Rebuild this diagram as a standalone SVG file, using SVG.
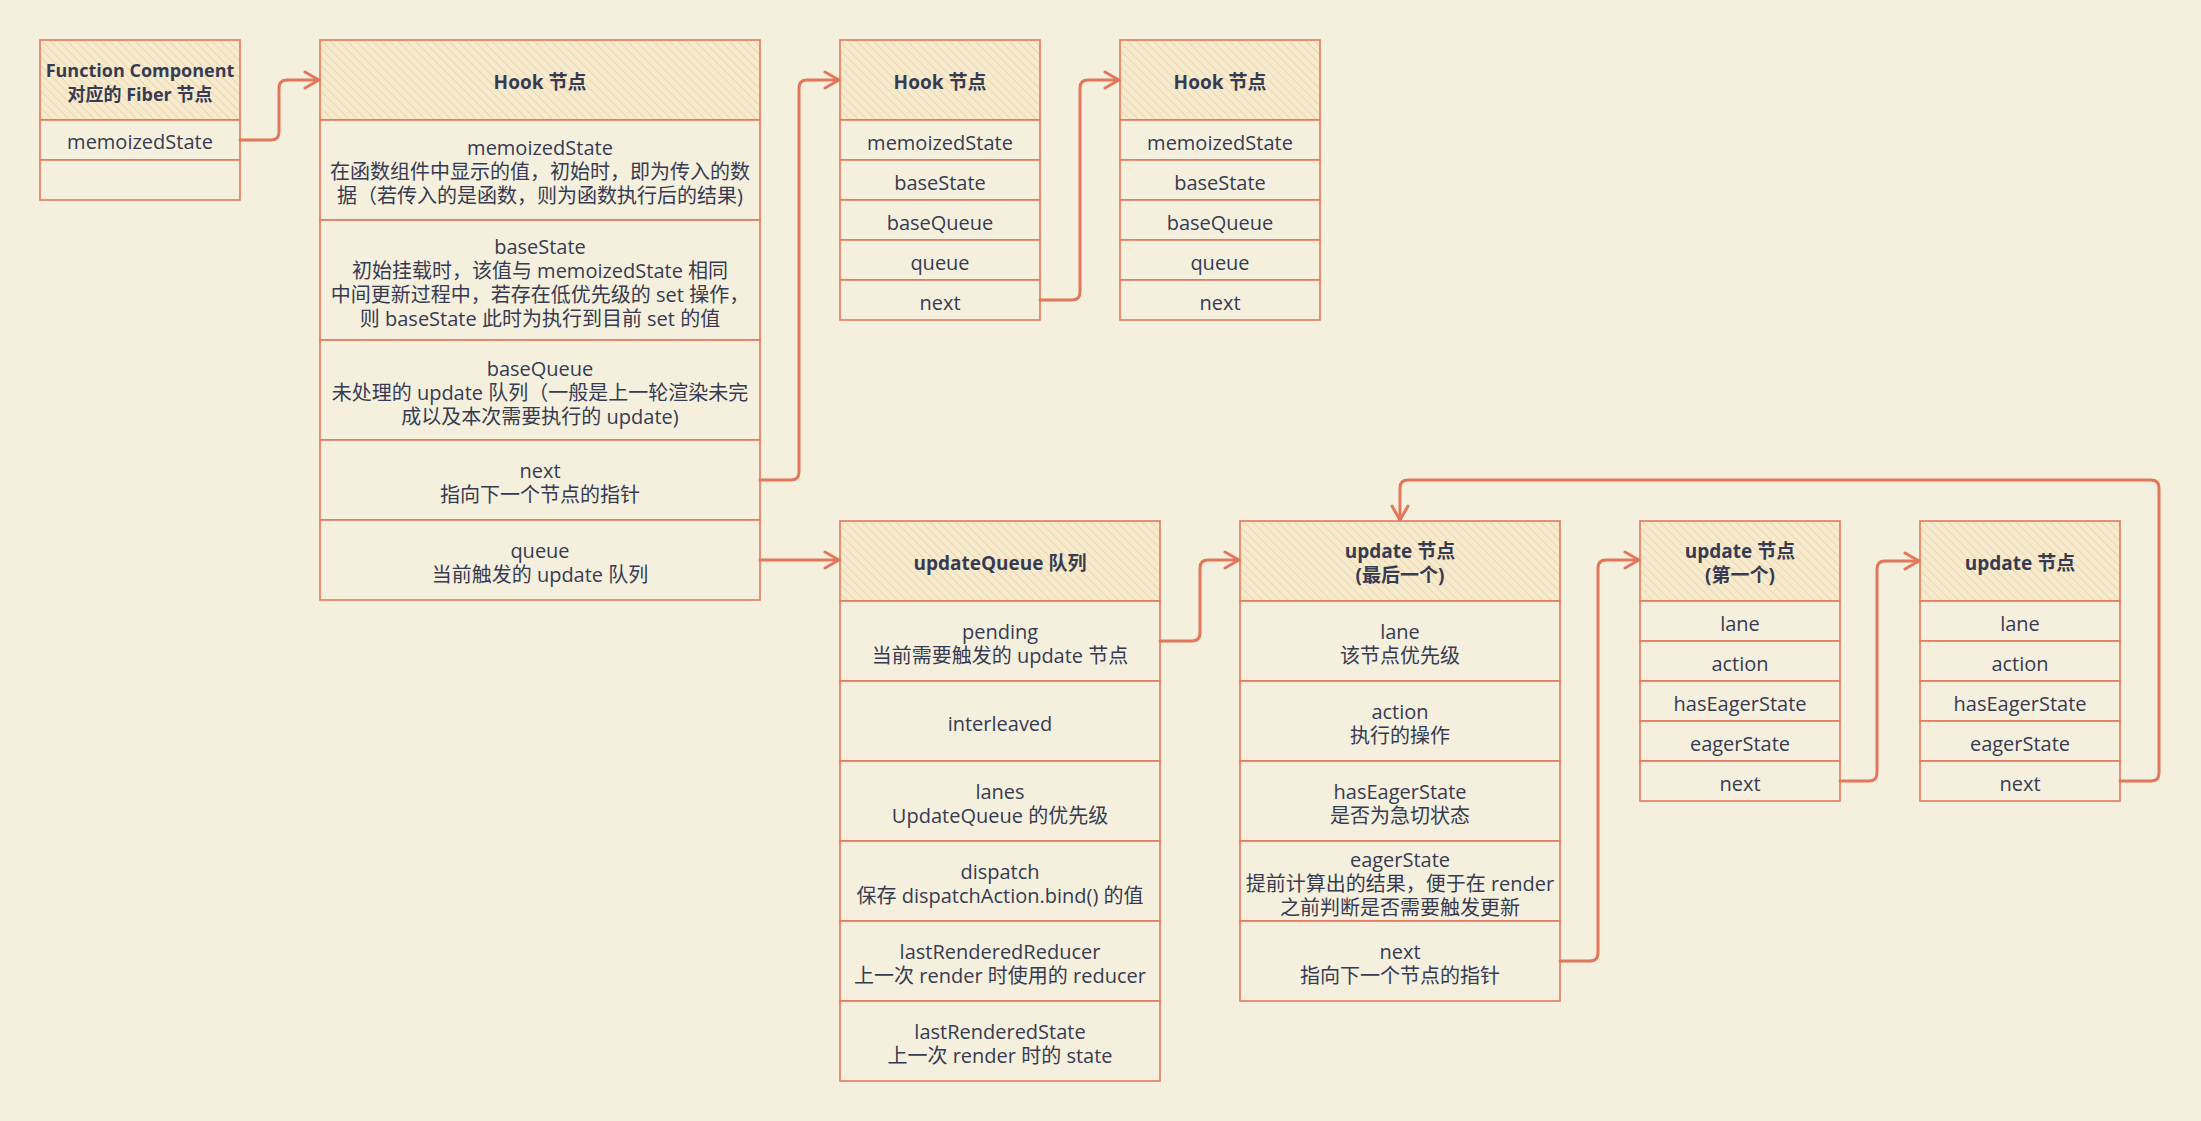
<svg xmlns="http://www.w3.org/2000/svg" width="2201" height="1121" viewBox="0 0 2201 1121">
<defs>
<pattern id="hatch" patternUnits="userSpaceOnUse" width="6" height="6" patternTransform="rotate(-45)">
<rect width="6" height="6" fill="#f6ebcf"/>
<line x1="0" y1="0" x2="0" y2="6" stroke="#efcf9f" stroke-width="1.6"/>
</pattern>
<marker id="arr" markerUnits="userSpaceOnUse" markerWidth="24" markerHeight="24" refX="16" refY="10" orient="auto" viewBox="0 0 24 20">
<path d="M2,2 L16,10 L2,18" fill="none" stroke="#e2775b" stroke-width="3" stroke-linecap="round" stroke-linejoin="round"/>
</marker>
<style>
.hd{fill:url(#hatch);stroke:#e4785c;stroke-width:1.6}
.cell{fill:#f5f0de;stroke:#e4785c;stroke-width:1.6}
text{font-family:"Open Sans","Noto Sans CJK SC",sans-serif;font-size:20px;fill:#363b52;text-anchor:middle;dominant-baseline:central}
.t{font-weight:bold;font-size:19px}
.f{font-weight:bold;font-size:18px}
.c{fill:none;stroke:#e2775b;stroke-width:3;stroke-linecap:round;stroke-linejoin:round}
</style>
</defs>
<rect width="2201" height="1121" fill="#f5f0de"/>

<g id="fiber">
<rect class="hd" x="40" y="40" width="200" height="80"/>
<text class="f" x="140" y="70">Function Component</text>
<text class="f" x="140" y="94">对应的 Fiber 节点</text>
<rect class="cell" x="40" y="120" width="200" height="40"/>
<text x="140" y="141">memoizedState</text>
<rect class="cell" x="40" y="160" width="200" height="40"/>
</g>

<g id="hook1">
<rect class="hd" x="320" y="40" width="440" height="80"/>
<text class="t" x="540" y="82">Hook 节点</text>
<rect class="cell" x="320" y="120" width="440" height="100"/>
<text x="540" y="147">memoizedState</text>
<text x="540" y="171">在函数组件中显示的值，初始时，即为传入的数</text>
<text x="540" y="195">据（若传入的是函数，则为函数执行后的结果)</text>
<rect class="cell" x="320" y="220" width="440" height="120"/>
<text x="540" y="246">baseState</text>
<text x="540" y="270">初始挂载时，该值与 memoizedState 相同</text>
<text x="540" y="294">中间更新过程中，若存在低优先级的 set 操作，</text>
<text x="540" y="318">则 baseState 此时为执行到目前 set 的值</text>
<rect class="cell" x="320" y="340" width="440" height="100"/>
<text x="540" y="368">baseQueue</text>
<text x="540" y="392">未处理的 update 队列（一般是上一轮渲染未完</text>
<text x="540" y="416">成以及本次需要执行的 update)</text>
<rect class="cell" x="320" y="440" width="440" height="80"/>
<text x="540" y="470">next</text>
<text x="540" y="494">指向下一个节点的指针</text>
<rect class="cell" x="320" y="520" width="440" height="80"/>
<text x="540" y="550">queue</text>
<text x="540" y="574">当前触发的 update 队列</text>
</g>

<g id="hook2">
<rect class="hd" x="840" y="40" width="200" height="80"/>
<text class="t" x="940" y="82">Hook 节点</text>
<rect class="cell" x="840" y="120" width="200" height="40"/>
<text x="940" y="142">memoizedState</text>
<rect class="cell" x="840" y="160" width="200" height="40"/>
<text x="940" y="182">baseState</text>
<rect class="cell" x="840" y="200" width="200" height="40"/>
<text x="940" y="222">baseQueue</text>
<rect class="cell" x="840" y="240" width="200" height="40"/>
<text x="940" y="262">queue</text>
<rect class="cell" x="840" y="280" width="200" height="40"/>
<text x="940" y="302">next</text>
</g>

<g id="hook3">
<rect class="hd" x="1120" y="40" width="200" height="80"/>
<text class="t" x="1220" y="82">Hook 节点</text>
<rect class="cell" x="1120" y="120" width="200" height="40"/>
<text x="1220" y="142">memoizedState</text>
<rect class="cell" x="1120" y="160" width="200" height="40"/>
<text x="1220" y="182">baseState</text>
<rect class="cell" x="1120" y="200" width="200" height="40"/>
<text x="1220" y="222">baseQueue</text>
<rect class="cell" x="1120" y="240" width="200" height="40"/>
<text x="1220" y="262">queue</text>
<rect class="cell" x="1120" y="280" width="200" height="40"/>
<text x="1220" y="302">next</text>
</g>

<g id="updateQueue">
<rect class="hd" x="840" y="521" width="320" height="80"/>
<text class="t" x="1000" y="563">updateQueue 队列</text>
<rect class="cell" x="840" y="601" width="320" height="80"/>
<text x="1000" y="631">pending</text>
<text x="1000" y="655">当前需要触发的 update 节点</text>
<rect class="cell" x="840" y="681" width="320" height="80"/>
<text x="1000" y="723">interleaved</text>
<rect class="cell" x="840" y="761" width="320" height="80"/>
<text x="1000" y="791">lanes</text>
<text x="1000" y="815">UpdateQueue 的优先级</text>
<rect class="cell" x="840" y="841" width="320" height="80"/>
<text x="1000" y="871">dispatch</text>
<text x="1000" y="895">保存 dispatchAction.bind() 的值</text>
<rect class="cell" x="840" y="921" width="320" height="80"/>
<text x="1000" y="951">lastRenderedReducer</text>
<text x="1000" y="975">上一次 render 时使用的 reducer</text>
<rect class="cell" x="840" y="1001" width="320" height="80"/>
<text x="1000" y="1031">lastRenderedState</text>
<text x="1000" y="1055">上一次 render 时的 state</text>
</g>

<g id="updateLast">
<rect class="hd" x="1240" y="521" width="320" height="80"/>
<text class="t" x="1400" y="551">update 节点</text>
<text class="t" x="1400" y="575">(最后一个)</text>
<rect class="cell" x="1240" y="601" width="320" height="80"/>
<text x="1400" y="631">lane</text>
<text x="1400" y="655">该节点优先级</text>
<rect class="cell" x="1240" y="681" width="320" height="80"/>
<text x="1400" y="711">action</text>
<text x="1400" y="735">执行的操作</text>
<rect class="cell" x="1240" y="761" width="320" height="80"/>
<text x="1400" y="791">hasEagerState</text>
<text x="1400" y="815">是否为急切状态</text>
<rect class="cell" x="1240" y="841" width="320" height="80"/>
<text x="1400" y="859">eagerState</text>
<text x="1400" y="883">提前计算出的结果，便于在 render</text>
<text x="1400" y="907">之前判断是否需要触发更新</text>
<rect class="cell" x="1240" y="921" width="320" height="80"/>
<text x="1400" y="951">next</text>
<text x="1400" y="975">指向下一个节点的指针</text>
</g>

<g id="updateFirst">
<rect class="hd" x="1640" y="521" width="200" height="80"/>
<text class="t" x="1740" y="551">update 节点</text>
<text class="t" x="1740" y="575">(第一个)</text>
<rect class="cell" x="1640" y="601" width="200" height="40"/>
<text x="1740" y="623">lane</text>
<rect class="cell" x="1640" y="641" width="200" height="40"/>
<text x="1740" y="663">action</text>
<rect class="cell" x="1640" y="681" width="200" height="40"/>
<text x="1740" y="703">hasEagerState</text>
<rect class="cell" x="1640" y="721" width="200" height="40"/>
<text x="1740" y="743">eagerState</text>
<rect class="cell" x="1640" y="761" width="200" height="40"/>
<text x="1740" y="783">next</text>
</g>

<g id="updateNext">
<rect class="hd" x="1920" y="521" width="200" height="80"/>
<text class="t" x="2020" y="563">update 节点</text>
<rect class="cell" x="1920" y="601" width="200" height="40"/>
<text x="2020" y="623">lane</text>
<rect class="cell" x="1920" y="641" width="200" height="40"/>
<text x="2020" y="663">action</text>
<rect class="cell" x="1920" y="681" width="200" height="40"/>
<text x="2020" y="703">hasEagerState</text>
<rect class="cell" x="1920" y="721" width="200" height="40"/>
<text x="2020" y="743">eagerState</text>
<rect class="cell" x="1920" y="761" width="200" height="40"/>
<text x="2020" y="783">next</text>
</g>

<g id="connectors">
<path class="c" marker-end="url(#arr)" d="M240,140 L271,140 Q279,140 279,132 L279,88 Q279,80 287,80 L319,80"/>
<path class="c" marker-end="url(#arr)" d="M760,480 L791,480 Q799,480 799,472 L799,88 Q799,80 807,80 L839,80"/>
<path class="c" marker-end="url(#arr)" d="M1040,300 L1072,300 Q1080,300 1080,292 L1080,88 Q1080,80 1088,80 L1119,80"/>
<path class="c" marker-end="url(#arr)" d="M760,560 L839,560"/>
<path class="c" marker-end="url(#arr)" d="M1160,641 L1192,641 Q1200,641 1200,633 L1200,568 Q1200,560 1208,560 L1239,560"/>
<path class="c" marker-end="url(#arr)" d="M1560,961 L1590,961 Q1598,961 1598,953 L1598,568 Q1598,560 1606,560 L1639,560"/>
<path class="c" marker-end="url(#arr)" d="M1840,781 L1869,781 Q1877,781 1877,773 L1877,569 Q1877,561 1885,561 L1919,561"/>
<path class="c" marker-end="url(#arr)" d="M2120,781 L2151,781 Q2159,781 2159,773 L2159,488 Q2159,480 2151,480 L1408,480 Q1400,480 1400,488 L1400,520"/>
</g>
</svg>
